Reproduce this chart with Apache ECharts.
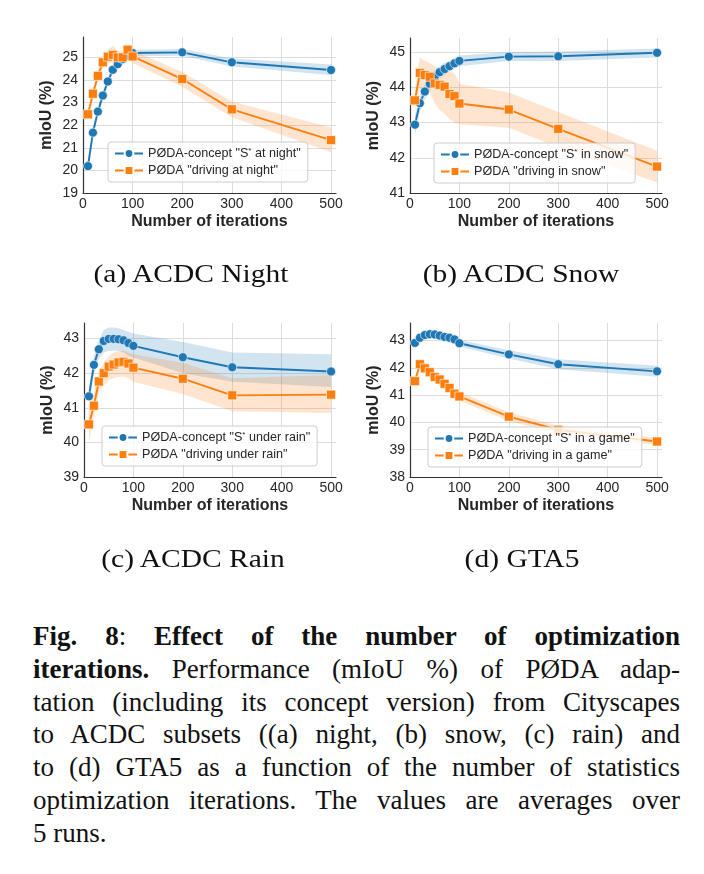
<!DOCTYPE html>
<html><head><meta charset="utf-8">
<script src="https://cdn.jsdelivr.net/npm/echarts@6/dist/echarts.min.js"></script>
<style>
html,body{margin:0;padding:0;background:#fff;}
#wrap{position:relative;width:704px;height:874px;overflow:hidden;background:#fff;}
#chart{position:absolute;left:0;top:0;width:704px;height:600px;}
.sub{position:absolute;font-family:"Liberation Serif","Times New Roman",serif;font-size:25px;color:#111;white-space:nowrap;transform:translate(-50%,-50%) scaleX(1.18);line-height:1;}
#cap{position:absolute;left:33px;top:620px;width:647px;font-family:"Liberation Serif","Times New Roman",serif;font-size:27px;color:#111;}
#cap .ln{text-align:justify;text-align-last:justify;height:32.8px;line-height:32.8px;white-space:normal;}
#cap .last{text-align:left;height:32.8px;line-height:32.8px;}
</style></head>
<body>
<div id="wrap">
<div id="chart"></div>
<div class="sub" style="left:191px;top:273px;">(a) ACDC Night</div>
<div class="sub" style="left:521px;top:273px;">(b) ACDC Snow</div>
<div class="sub" style="left:193px;top:558px;">(c) ACDC Rain</div>
<div class="sub" style="left:522px;top:558px;">(d) GTA5</div>
<div id="cap">
<div class="ln"><b>Fig. 8</b>: <b>Effect of the number of optimization</b></div>
<div class="ln"><b>iterations.</b> Performance (mIoU %) of PØDA adap-</div>
<div class="ln">tation (including its concept version) from Cityscapes</div>
<div class="ln">to ACDC subsets ((a) night, (b) snow, (c) rain) and</div>
<div class="ln">to (d) GTA5 as a function of the number of statistics</div>
<div class="ln">optimization iterations. The values are averages over</div>
<div class="last">5 runs.</div>
</div>
</div>
<script>
const iters = [10, 20, 30, 40, 50, 60, 70, 80, 90, 100, 200, 300, 500];

// (a) ACDC Night
const nightConcept   = [20.19, 21.67, 22.6, 23.31, 23.93, 24.45, 24.7, 24.92, 25.08, 25.19, 25.22, 24.78, 24.44];
const nightConceptLo = [19.95, 21.45, 22.4, 23.1, 23.75, 24.3, 24.55, 24.8, 24.95, 25.05, 25.07, 24.6, 24.22];
const nightConceptHi = [20.45, 21.9, 22.8, 23.5, 24.1, 24.6, 24.85, 25.05, 25.2, 25.33, 25.37, 24.95, 24.68];
const nightDriving   = [22.48, 23.39, 24.18, 24.78, 25.03, 25.11, 25.0, 25.0, 25.34, 25.04, 24.04, 22.7, 21.34];
const nightDrivingLo = [22.3, 23.2, 23.95, 24.55, 24.75, 24.75, 24.75, 24.8, 25.05, 24.75, 23.7, 22.35, 20.8];
const nightDrivingHi = [22.65, 23.6, 24.4, 25.0, 25.35, 25.5, 25.3, 25.25, 25.55, 25.3, 24.35, 23.05, 21.9];

// (b) ACDC Snow
const snowConcept   = [42.94, 43.55, 43.88, 44.1, 44.3, 44.43, 44.52, 44.6, 44.68, 44.75, 44.87, 44.88, 44.98];
const snowConceptLo = [42.65, 43.3, 43.65, 43.9, 44.1, 44.25, 44.35, 44.45, 44.53, 44.6, 44.75, 44.75, 44.85];
const snowConceptHi = [43.2, 43.8, 44.1, 44.3, 44.5, 44.6, 44.7, 44.75, 44.83, 44.9, 45.0, 45.02, 45.1];
const snowDriving   = [43.63, 44.41, 44.35, 44.3, 44.11, 44.07, 44.02, 43.81, 43.75, 43.54, 43.37, 42.82, 41.75];
const snowDrivingLo = [43.35, 43.95, 43.95, 43.85, 43.55, 43.35, 43.25, 43.1, 43.0, 42.95, 42.85, 42.3, 41.3];
const snowDrivingHi = [43.9, 44.85, 44.75, 44.7, 44.6, 44.55, 44.5, 44.45, 44.4, 44.1, 43.85, 43.3, 42.2];

// (c) ACDC Rain
const rainConcept   = [41.33, 42.24, 42.69, 42.93, 42.99, 42.99, 42.98, 42.95, 42.87, 42.79, 42.46, 42.17, 42.05];
const rainConceptLo = [41.1, 41.95, 42.4, 42.6, 42.65, 42.65, 42.65, 42.6, 42.5, 42.45, 42.0, 41.75, 41.6];
const rainConceptHi = [41.55, 42.5, 42.95, 43.25, 43.32, 43.32, 43.3, 43.25, 43.2, 43.15, 42.9, 42.6, 42.55];
const rainDriving   = [40.52, 41.06, 41.76, 42.0, 42.19, 42.25, 42.31, 42.33, 42.28, 42.16, 41.84, 41.36, 41.38];
const rainDrivingLo = [40.0, 40.7, 41.45, 41.65, 41.8, 41.85, 41.9, 41.9, 41.85, 41.75, 41.4, 40.9, 40.85];
const rainDrivingHi = [40.95, 41.4, 42.05, 42.3, 42.5, 42.6, 42.65, 42.65, 42.6, 42.55, 42.3, 41.85, 41.95];

// (d) GTA5
const gtaConcept   = [42.91, 43.1, 43.2, 43.23, 43.22, 43.18, 43.13, 43.1, 43.04, 42.9, 42.49, 42.13, 41.87];
const gtaConceptLo = [42.83, 43.02, 43.12, 43.15, 43.14, 43.1, 43.05, 43.02, 42.94, 42.78, 42.34, 41.95, 41.67];
const gtaConceptHi = [42.99, 43.18, 43.28, 43.31, 43.3, 43.26, 43.21, 43.18, 43.14, 43.02, 42.64, 42.31, 42.07];
const gtaDriving   = [41.51, 42.13, 41.98, 41.84, 41.66, 41.57, 41.41, 41.26, 41.05, 40.95, 40.21, 39.73, 39.3];
const gtaDrivingLo = [41.42, 42.03, 41.88, 41.74, 41.56, 41.45, 41.29, 41.13, 40.92, 40.8, 40.05, 39.58, 39.17];
const gtaDrivingHi = [41.6, 42.23, 42.08, 41.94, 41.76, 41.69, 41.53, 41.39, 41.18, 41.1, 40.37, 39.88, 39.43];

const conceptNames = ['PØDA-concept "S* at night"', 'PØDA-concept "S* in snow"', 'PØDA-concept "S* under rain"', 'PØDA-concept "S* in a game"'];
const drivingNames = ['PØDA "driving at night"', 'PØDA "driving in snow"', 'PØDA "driving under rain"', 'PØDA "driving in a game"'];
const xAxisTitle = 'Number of iterations';
const yAxisTitle = 'mIoU (%)';
const yMins = [19, 41, 39, 38];
const yMaxs = [25.9, 45.4, 43.45, 43.64];
const xMin = 0, xMax = 510, xStep = 100;

const panels = [
  {c: nightConcept, cLo: nightConceptLo, cHi: nightConceptHi, d: nightDriving, dLo: nightDrivingLo, dHi: nightDrivingHi},
  {c: snowConcept, cLo: snowConceptLo, cHi: snowConceptHi, d: snowDriving, dLo: snowDrivingLo, dHi: snowDrivingHi},
  {c: rainConcept, cLo: rainConceptLo, cHi: rainConceptHi, d: rainDriving, dLo: rainDrivingLo, dHi: rainDrivingHi},
  {c: gtaConcept, cLo: gtaConceptLo, cHi: gtaConceptHi, d: gtaDriving, dLo: gtaDrivingLo, dHi: gtaDrivingHi}
];

const BLUE = '#1f77b4', ORANGE = '#ff7f0e';
const gridPos = [
  {left: 83, top: 37, width: 253, height: 156},
  {left: 410, top: 38, width: 252, height: 155},
  {left: 84, top: 323, width: 252, height: 154},
  {left: 410, top: 323, width: 252, height: 154}
];
const legendPos = [
  {left: 108, top: 142}, {left: 434, top: 143}, {left: 102, top: 426}, {left: 428, top: 427}
];
const FONT = '"Liberation Sans", Arial, sans-serif';
const TXT = '#262626';

function band(gi, lo, hi, color) {
  return {
    type: 'custom', xAxisIndex: gi, yAxisIndex: gi, silent: true, z: 1,
    data: iters.map((x, i) => [x, lo[i], hi[i]]),
    encode: {x: 0, y: [1, 2]},
    renderItem: function (params, api) {
      if (params.dataIndex !== 0) return null;
      const pts = [];
      for (let i = 0; i < iters.length; i++) pts.push(api.coord([iters[i], hi[i]]));
      for (let i = iters.length - 1; i >= 0; i--) pts.push(api.coord([iters[i], lo[i]]));
      return {type: 'polygon', shape: {points: pts}, style: {fill: color, stroke: null}};
    }
  };
}
function line(gi, name, vals, color, symbol, size) {
  return {
    type: 'line', name: name, xAxisIndex: gi, yAxisIndex: gi, z: 3,
    data: iters.map((x, i) => [x, vals[i]]),
    symbol: symbol, symbolSize: size, showSymbol: true,
    lineStyle: {color: color, width: 1.9},
    itemStyle: {color: color, borderColor: '#fff', borderWidth: 0.6},
    emphasis: {disabled: true}
  };
}

const grid = [], xAxis = [], yAxis = [], series = [], legend = [];
panels.forEach((p, gi) => {
  grid.push(Object.assign({containLabel: false}, gridPos[gi]));
  xAxis.push({
    gridIndex: gi, type: 'value', min: xMin, max: xMax, interval: xStep,
    axisLine: {show: true, onZero: false, lineStyle: {color: '#333', width: 1.2}},
    axisTick: {show: false},
    axisLabel: {showMaxLabel: false, color: TXT, fontSize: 14, fontFamily: FONT, margin: 4},
    splitLine: {show: true, showMaxLine: false, lineStyle: {color: '#dcdcdc', width: 1}},
    name: xAxisTitle, nameLocation: 'middle', nameGap: 21,
    nameTextStyle: {fontWeight: 'bold', fontSize: 16, color: TXT, fontFamily: FONT}
  });
  yAxis.push({
    gridIndex: gi, type: 'value', min: yMins[gi], max: yMaxs[gi], interval: 1,
    axisLine: {show: true, onZero: false, lineStyle: {color: '#333', width: 1.2}},
    axisTick: {show: false},
    axisLabel: {showMaxLabel: false, color: TXT, fontSize: 14, fontFamily: FONT, margin: 5},
    splitLine: {show: true, showMaxLine: false, lineStyle: {color: '#dcdcdc', width: 1}},
    name: yAxisTitle, nameLocation: 'middle', nameGap: 28,
    nameTextStyle: {fontWeight: 'bold', fontSize: 16, color: TXT, fontFamily: FONT}
  });
  series.push(band(gi, p.cLo, p.cHi, 'rgba(31,119,180,0.2)'));
  series.push(band(gi, p.dLo, p.dHi, 'rgba(255,127,14,0.2)'));
  series.push(line(gi, conceptNames[gi], p.c, BLUE, 'circle', 9));
  series.push(line(gi, drivingNames[gi], p.d, ORANGE, 'rect', 9));
  legend.push({
    left: legendPos[gi].left, top: legendPos[gi].top, orient: 'vertical',
    data: [conceptNames[gi], drivingNames[gi]], selectedMode: false,
    itemWidth: 28, itemHeight: 11, itemGap: 4, padding: [5, 7, 5, 6],
    backgroundColor: 'rgba(255,255,255,0.8)', borderColor: '#cccccc', borderWidth: 1, borderRadius: 3,
    formatter: n => n.replace('S*', 'S{sup|*}'),
    textStyle: {fontFamily: FONT, fontSize: 12.6, color: TXT,
      rich: {sup: {fontFamily: FONT, fontSize: 8, color: TXT, verticalAlign: 'top', lineHeight: 10}}}
  });
});

const chart = echarts.init(document.getElementById('chart'), null, {renderer: 'canvas'});
chart.setOption({
  animation: false,
  backgroundColor: '#fff',
  textStyle: {fontFamily: FONT},
  grid: grid, xAxis: xAxis, yAxis: yAxis, legend: legend, series: series
});
</script>
</body></html>
